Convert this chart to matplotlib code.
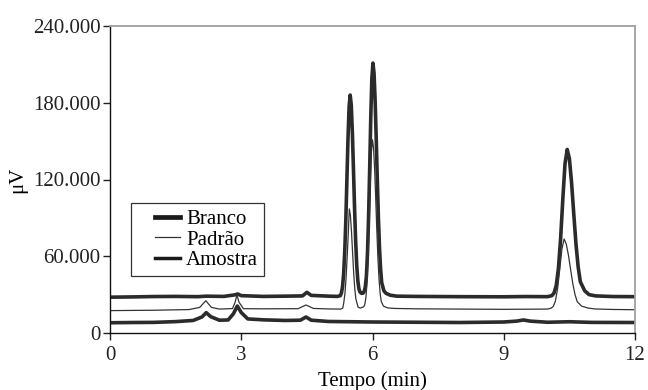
import matplotlib
matplotlib.use('Agg')
import numpy as np
from matplotlib import pyplot as plt
from matplotlib.ticker import FixedLocator
from matplotlib.legend_handler import HandlerLine2D

plt.rcParams['font.family'] = ['Liberation Serif', 'DejaVu Serif']

# Amostra (upper thick trace): time (min) and signal (uV)
t_amostra = [0.0, 0.5, 1.0, 1.5, 2.0, 2.2, 2.6, 2.85, 2.92, 3.0, 3.5, 4.0, 4.4, 4.5, 4.6, 5.0, 5.2,
             5.265, 5.29, 5.315, 5.34, 5.365, 5.39, 5.415, 5.44, 5.465, 5.49, 5.515, 5.54, 5.565,
             5.59, 5.615, 5.64, 5.665, 5.69, 5.715, 5.75, 5.785, 5.81, 5.835, 5.86, 5.885, 5.91,
             5.935, 5.96, 5.985, 6.01, 6.035, 6.06, 6.085, 6.11, 6.135, 6.16, 6.185, 6.21, 6.26,
             6.31, 6.41, 6.56, 7.0, 8.0, 9.0, 9.5, 10.0, 10.1, 10.15, 10.2, 10.25, 10.3, 10.35,
             10.4, 10.45, 10.5, 10.55, 10.6, 10.65, 10.7, 10.75, 10.85, 10.95, 11.1, 11.5, 12.0]
y_amostra = [28000, 28200, 28500, 28600, 28400, 28800, 28600, 29800, 30500, 29200, 28600, 28800, 29000, 31800, 29400, 28800, 28600,
             29200, 31300, 36200, 46000, 63000, 88000, 120000, 152000, 177000, 186000, 178000, 156600, 127600,
             97500, 71700, 52800, 40700, 34500, 32000, 31000, 31200, 32500, 36000, 44100, 61800, 90000,
             127600, 167600, 199000, 211000, 203300, 181900, 152000, 119600, 90000, 66600, 50000, 39500, 33000,
             31000, 29500, 28800, 28600, 28400, 28300, 28500, 28400, 29200, 31300, 37200, 50600, 73900, 104600,
             132200, 143500, 136400, 117600, 93300, 69900, 51900, 40100, 33000, 30000, 29000, 28500, 28400]

# Padrao (middle thin trace)
t_padrao = [0.0, 1.0, 1.8, 2.05, 2.19, 2.32, 2.5, 2.8, 2.86, 2.9, 2.95, 3.05, 3.5, 4.3, 4.48, 4.65, 5.0, 5.27,
            5.32, 5.345, 5.37, 5.395, 5.42, 5.445, 5.47, 5.495, 5.52, 5.545, 5.57, 5.595, 5.62,
            5.67, 5.72, 5.76, 5.8, 5.825, 5.85, 5.875, 5.9, 5.925, 5.95, 5.975, 6.0, 6.025,
            6.05, 6.075, 6.1, 6.125, 6.15, 6.175, 6.2, 6.25, 6.35, 6.5, 7.0, 8.0, 9.0, 10.0,
            10.08, 10.13, 10.18, 10.23, 10.28, 10.33, 10.38, 10.43, 10.48, 10.53, 10.58, 10.63,
            10.68, 10.78, 10.93, 11.08, 11.5, 12.0]
y_padrao = [17500, 17800, 18300, 20000, 25200, 20000, 18700, 19100, 24000, 29700, 24000, 19000, 18900, 19000, 21900, 19200, 18800, 18700,
            19400, 24000, 31000, 42600, 58800, 76700, 97000, 91900, 79200, 62600, 46800, 34600, 26600,
            20200, 19500, 20000, 20500, 22500, 28000, 39500, 59000, 86500, 116800, 141200, 151000, 144200,
            127200, 103700, 79200, 57700, 41500, 31000, 24700, 21000, 19600, 19200, 18900, 18700, 18500, 18700,
            19400, 20700, 24900, 34400, 49900, 65800, 73500, 69400, 60600, 49200, 38300, 29900,
            24400, 21000, 19500, 18800, 18400, 18200]

# Branco (lower thick trace)
t_branco = [0.0, 0.5, 1.0, 1.5, 1.9, 2.1, 2.2, 2.3, 2.5, 2.7, 2.82, 2.91, 3.0, 3.15, 3.5, 4.0, 4.35, 4.48, 4.6, 5.0,
            6.0, 7.0, 8.0, 9.0, 9.3, 9.45, 9.6, 10.0, 10.5, 11.0, 12.0]
y_branco = [8000, 8200, 8300, 8900, 9800, 12500, 15900, 12800, 10000, 10200, 15000, 21100, 16000, 11000, 10300, 9800, 10000, 12500, 10000, 9000,
            8600, 8400, 8200, 8600, 9300, 10200, 9300, 8400, 8800, 8300, 8200]

y_ticks = [0, 60000, 120000, 180000, 240000]
y_labels = ['0', '60.000', '120.000', '180.000', '240.000']
x_ticks = [0, 3, 6, 9, 12]

fig = plt.figure(figsize=(6.48, 3.9), dpi=100)
ax = fig.add_axes([110 / 648, 57 / 390, 525 / 648, 307 / 390])

ax.plot(t_amostra, y_amostra, color='#2b2b2b', lw=2.6, solid_joinstyle='round')
ax.plot(t_padrao, y_padrao, color='#333333', lw=0.9)
ax.plot(t_branco, y_branco, color='#2b2b2b', lw=2.6, solid_joinstyle='round')

# legend built from proxy lines with the legend's own thickness
h1, = ax.plot([], [], color='#1a1a1a', lw=3.4)
h2, = ax.plot([], [], color='#333333', lw=0.9)
h3, = ax.plot([], [], color='#1a1a1a', lw=2.5)
hmap = {h: HandlerLine2D(xpad=0.84) for h in (h1, h2, h3)}
leg = ax.legend([h1, h2, h3], ['Branco', 'Padrão', 'Amostra'], loc='upper left',
                bbox_to_anchor=(0.04, 0.423), borderaxespad=0, fontsize=15, frameon=True,
                fancybox=False, handlelength=2.04, handletextpad=0.3, labelspacing=0.05,
                borderpad=0.3, handler_map=hmap)
leg.get_frame().set_edgecolor('black')
leg.get_frame().set_linewidth(0.9)

ax.set_xlim(0, 12)
ax.set_ylim(0, 240000)
ax.xaxis.set_major_locator(FixedLocator(x_ticks))
ax.set_yticks(y_ticks)
ax.set_yticklabels(y_labels)
ax.tick_params(direction='out', length=5, width=1, labelsize=15, colors='#222222')
ax.tick_params(axis='x', pad=4)
ax.tick_params(axis='y', pad=2)

for s in ['left', 'bottom']:
    ax.spines[s].set_color('#111111')
    ax.spines[s].set_linewidth(1.0)
for s in ['top', 'right']:
    ax.spines[s].set_color('#a0a0a0')
    ax.spines[s].set_linewidth(1.3)

ax.set_xlabel('Tempo (min)', fontsize=15, labelpad=5)
ax.set_ylabel('μV', fontsize=15, labelpad=4)

fig.savefig('out.png', dpi=100)
